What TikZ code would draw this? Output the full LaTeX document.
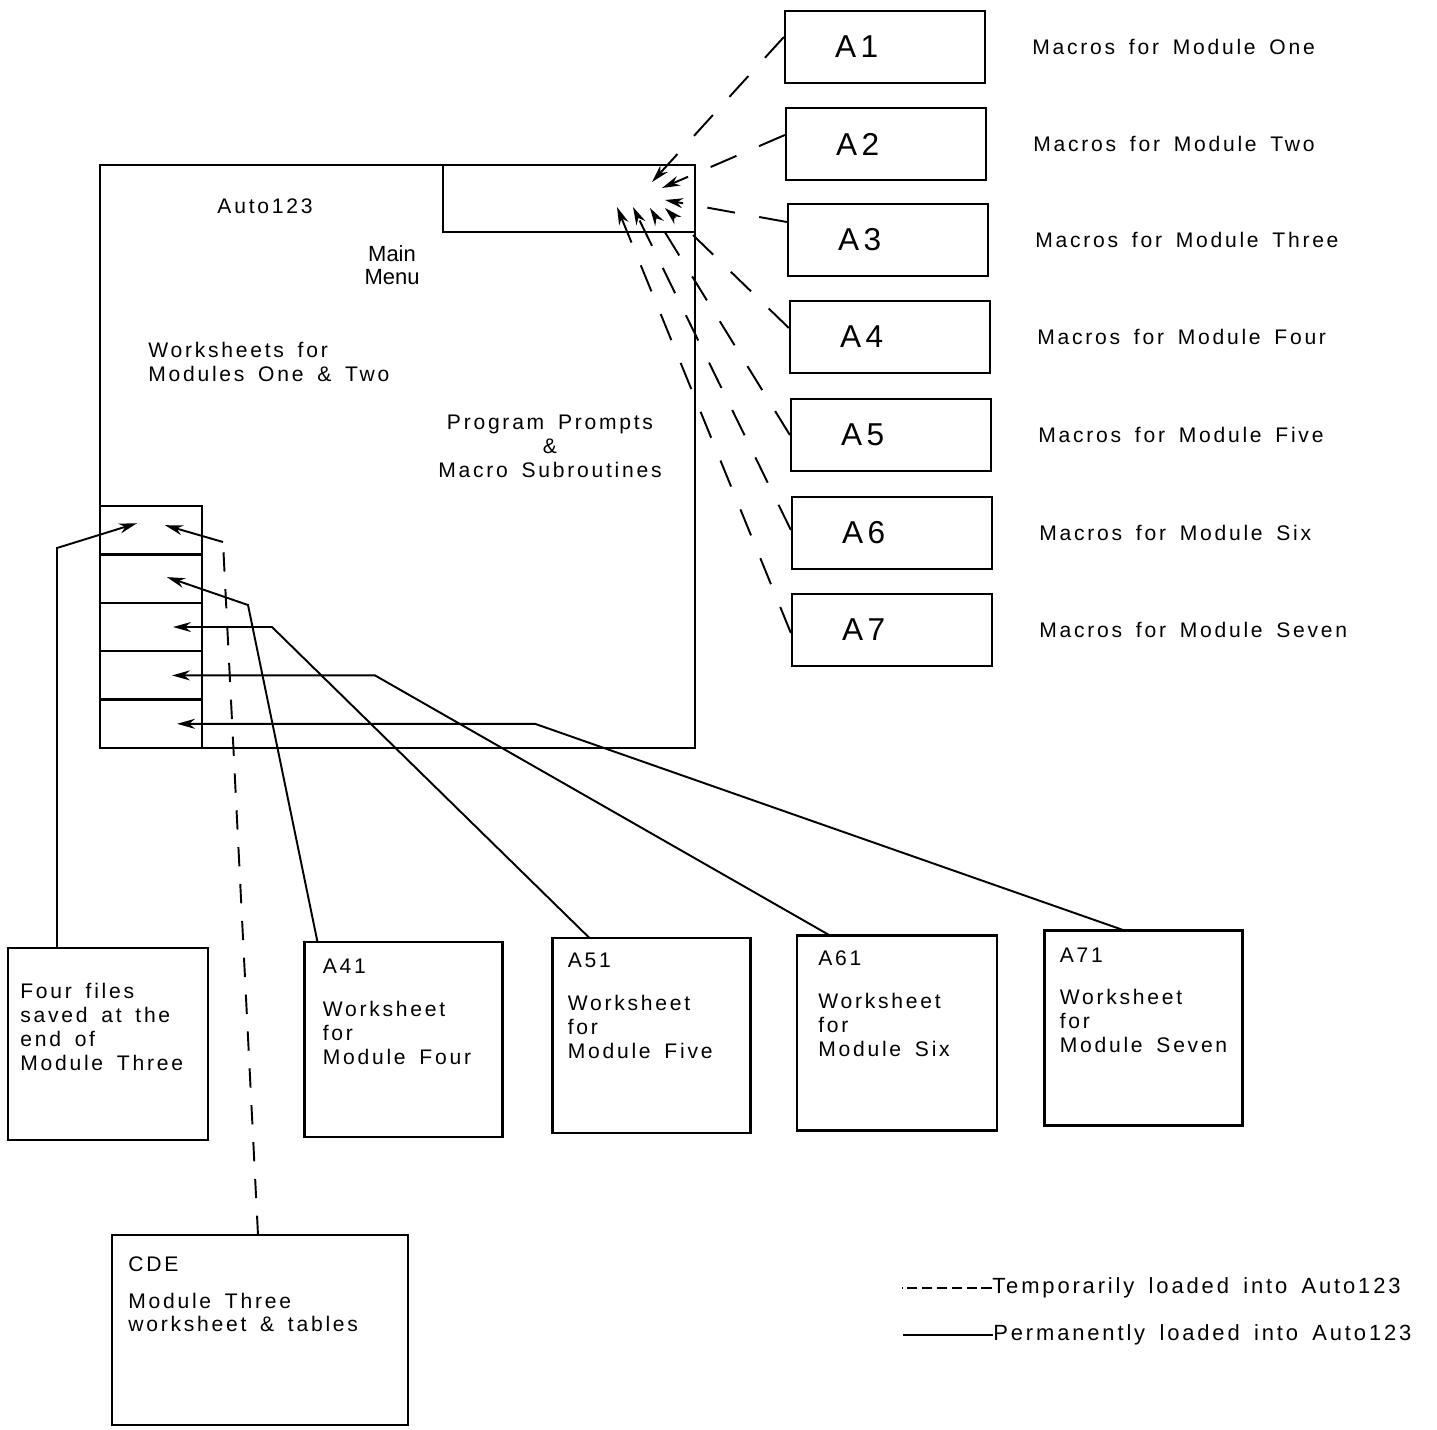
\documentclass[tikz,border=0pt]{standalone}
\usepackage{fontspec}
\setmainfont{Liberation Sans}[LetterSpace=13,WordSpace=1.6]
\newfontfamily\narrowfont{Liberation Sans}
\newfontfamily\labelfont{Liberation Sans}[LetterSpace=14]
\usetikzlibrary{arrows.meta,positioning}

\begin{document}
\begin{tikzpicture}[x=0.2mm,y=-0.2mm,
    mbox/.style={rectangle,draw,line width=1.3pt,minimum width=4cm,minimum height=1.44cm,text width=2cm,align=left,font=\labelfont\fontsize{18}{20}\selectfont},
    desc/.style={anchor=west,inner sep=0pt,font=\fontsize{12}{14}\selectfont},
    wbox/.style={rectangle,draw,line width=1.3pt,minimum width=3.96cm,minimum height=3.9cm,outer sep=0pt},
    wtxt/.style={anchor=north west,inner sep=0pt,align=left,font=\fontsize{12}{13.6}\selectfont},
    txt/.style={inner sep=0pt,font=\fontsize{12}{13.6}\selectfont},
    cell/.style={rectangle,draw,line width=1.3pt,minimum width=2.04cm,minimum height=0.968cm,anchor=north west,inner sep=0pt,outer sep=0pt},
    arr/.style={-{Stealth[length=3.6mm,width=2mm]},line width=1.1pt},
    darr/.style={arr,dash pattern=on 16pt off 14pt},
    vdash/.style={line width=1.1pt,dash pattern=on 11pt off 10pt},
]
\useasboundingbox (0,0) rectangle (1437,1429);

% Auto123 worksheet
\node[rectangle,draw,line width=1.3pt,minimum width=11.9cm,minimum height=11.66cm,outer sep=0pt] (main) at (397.5,456.5) {};
\node[rectangle,draw,line width=1.3pt,minimum width=5.04cm,minimum height=1.34cm,outer sep=0pt,anchor=north east] (menu) at (main.north east) {};
\node[txt] (auto) at (265,206) {Auto123};
\node[inner sep=0pt,align=center,font=\narrowfont\fontsize{12.5}{13}\selectfont] (mm) at (392,265) {Main\\Menu};
\node[txt,anchor=west,align=left] (ws) at (148,362) {Worksheets for\\Modules One \& Two};
\node[txt,align=center] (pp) at (550,446) {Program Prompts\\\&\\Macro Subroutines};

% Saved files
\foreach \i in {1,...,5}
  \node[cell] (c\i) at (100,{506+48.4*(\i-1)}) {};

% Macro files (right)
\foreach \i/\x/\y/\m in {1/885/47/One,2/886/144/Two,3/888/240/Three,4/890/337/Four,5/891/435/Five,6/892/533/Six,7/892/630/Seven}{
  \node[mbox] (a\i) at (\x,\y) {A\i};
  \node[desc] (d\i) at (\x+147,\y) {Macros for Module \m};
}

% Arrow tips in the main menu
\coordinate (t1) at (652,182);
\coordinate (t2) at (662,188);
\coordinate (t3) at (665,200);
\coordinate (t4) at (665,208);
\coordinate (t5) at (650,208);
\coordinate (t6) at (633,207);
\coordinate (t7) at (617,207);
\foreach \i/\s in {1/2mm,2/1.8mm,3/3.6mm,4/1.8mm,5/0mm,6/0.6mm,7/-0.6mm}
  \draw[darr] ([yshift=\s]a\i.west) -- (t\i);

% Worksheets (bottom)
\node[wbox,minimum width=4cm,minimum height=3.84cm] (ff) at (108,1044) {};
\node[wtxt] (fft) at ([shift={(2.4mm,-7mm)}]ff.north west) {Four files\\saved at the\\end of\\Module Three};
\node[wbox] (a41) at (403.5,1039.5) {};
\node[wtxt] (a41t) at ([shift={(3.6mm,-3.4mm)}]a41.north west) {A41\\[3.8mm]Worksheet\\for\\Module Four};
\node[wbox] (a51) at (651.5,1035.5) {};
\node[wtxt] (a51t) at ([shift={(3mm,-3mm)}]a51.north west) {A51\\[3.8mm]Worksheet\\for\\Module Five};
\node[wbox,minimum width=4cm] (a61) at (897,1033) {};
\node[wtxt] (a61t) at ([shift={(4.2mm,-3mm)}]a61.north west) {A61\\[3.8mm]Worksheet\\for\\Module Six};
\node[wbox] (a71) at (1143.5,1028) {};
\node[wtxt] (a71t) at ([shift={(3mm,-3.4mm)}]a71.north west) {A71\\[3.6mm]Worksheet\\for\\Module Seven};
\node[wbox,minimum width=5.92cm,minimum height=3.8cm] (cde) at (260,1330) {};
\node[wtxt] (cdet) at ([shift={(3.2mm,-4.2mm)}]cde.north west) {CDE\\[2.6mm]Module Three\\worksheet \& tables};

% Connectors into the saved files
\coordinate (fb) at (57,548);
\coordinate (cb) at (223,542);
\coordinate (b41) at (248,605);
\coordinate (b51) at (272,627);
\coordinate (b61) at (375,675.4);
\coordinate (b71) at (535,723.8);
\draw[arr] ([xshift=9.8mm]ff.north west) -- (fb) -- ([shift={(-2.8mm,1.4mm)}]c1.center);
\draw[vdash] ([xshift=-0.4mm]cde.north) -- (cb);
\draw[arr] (cb) -- ([shift={(2.8mm,1mm)}]c1.center);
\draw[arr] ([xshift=2.6mm]a41.north west) -- (b41) -- ([shift={(3.2mm,0.3mm)}]c2.center);
\draw[arr] ([xshift=7.4mm]a51.north west) -- (b51) -- ([xshift=4.4mm]c3.center);
\draw[arr] ([xshift=6.6mm]a61.north west) -- (b61) -- ([xshift=4.2mm]c4.center);
\draw[arr] ([xshift=16mm]a71.north west) -- (b71) -- ([xshift=5.2mm]c5.center);

% Legend
\node[desc,font=\fontsize{12.5}{14}\selectfont] (tmp) at (992,1288) {Temporarily loaded into Auto123};
\node[desc,font=\fontsize{12.5}{14}\selectfont] (perm) at (993,1335) {Permanently loaded into Auto123};
\draw[line width=1pt,dash pattern=on 6pt off 2.5pt] (tmp.west) -- ([xshift=-18mm]tmp.west);
\draw[line width=1pt] (perm.west) -- ([xshift=-18mm]perm.west);
\end{tikzpicture}
\end{document}
